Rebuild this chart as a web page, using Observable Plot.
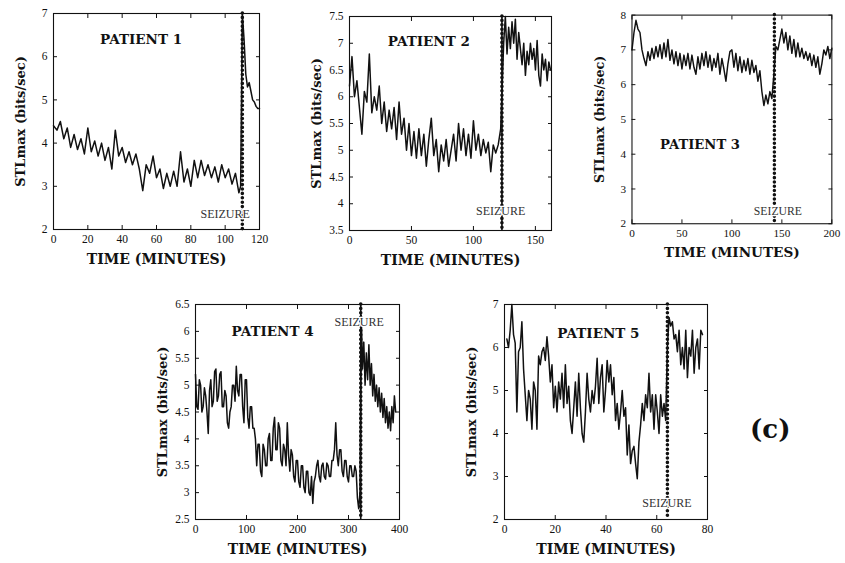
<!DOCTYPE html>
<html><head><meta charset="utf-8">
<script src="https://cdn.jsdelivr.net/npm/d3@7"></script>
<script src="https://cdn.jsdelivr.net/npm/@observablehq/plot@0.6"></script>
<style>
body{margin:0;width:845px;height:563px;overflow:hidden;background:#fff;position:relative;}
.panel{position:absolute;}
.panel svg{overflow:visible;}
g[aria-label="x-axis label"] text{font-family:"DejaVu Serif";font-weight:bold;font-size:14px;}
g[aria-label="y-axis label"] text{font-family:"DejaVu Serif";font-weight:bold;font-size:13px;}
#tag{position:absolute;left:750px;top:414px;font:bold 26px "DejaVu Serif";color:#111;}
</style></head>
<body>
<div id="tag">(c)</div>
<script>
// ---------- data ----------
const patients = ["PATIENT 1", "PATIENT 2", "PATIENT 3", "PATIENT 4", "PATIENT 5"];
const seizureTimes = [110, 123, 142.5, 324, 64.2];
const xDomains = [[0, 120], [0, 163], [0, 200], [0, 400], [0, 80]];
const yDomains = [[2, 7], [3.5, 7.5], [2, 8], [2.5, 6.5], [2, 7]];
const xTickValues = [[0,20,40,60,80,100,120],[0,50,100,150],[0,50,100,150,200],[0,100,200,300,400],[0,20,40,60,80]];
const yTickValues = [[2,3,4,5,6,7],[3.5,4,4.5,5,5.5,6,6.5,7,7.5],[2,3,4,5,6,7,8],[2.5,3,3.5,4,4.5,5,5.5,6,6.5],[2,3,4,5,6,7]];

// Patient 1: pre-seizure every 2 min from 0, post every 1 min from 109
const p1PreStart = 0, p1PreStep = 2;
const p1Pre = [4.4,4.3,4.5,4.1,4.35,3.9,4.2,3.85,4.1,3.75,4.35,3.8,4.05,3.7,4.0,3.6,3.9,3.4,4.3,3.7,3.9,3.55,3.8,3.5,3.75,3.4,2.9,3.5,3.3,3.7,3.2,3.4,2.95,3.3,3.0,3.35,3.0,3.8,3.1,3.4,3.0,3.6,3.2,3.6,3.25,3.5,3.2,3.45,3.1,3.5,3.2,3.4,3.05,3.3,2.85];
const p1PostStart = 109, p1PostStep = 1;
const p1Post = [3.0,7.0,6.4,5.6,5.3,5.4,5.2,5.0,4.95,4.85,4.8,4.8];

// Patient 2
const p2PreStart = 0, p2PreStep = 2;
const p2Pre = [6.2,6.75,6.0,6.3,5.8,5.3,6.1,5.9,6.8,5.7,6.0,5.75,6.2,5.5,5.9,5.35,5.75,5.4,5.8,5.2,5.9,5.3,5.6,5.0,5.5,4.9,5.35,4.85,5.4,4.9,5.3,4.7,5.2,5.6,4.9,5.2,4.6,5.1,4.8,5.2,4.7,5.0,5.3,4.8,5.5,5.0,5.4,4.9,5.3,4.85,5.55,5.0,5.3,4.9,5.2,4.95,5.15,4.6,5.1,4.95,5.1,5.4];
const p2PostStart = 124.4, p2PostStep = 1.35;
const p2Post = [7.0,7.5,6.8,7.3,6.9,7.4,7.0,7.45,6.7,7.2,6.9,6.6,7.0,6.4,6.85,6.6,7.0,6.7,6.9,6.5,7.05,6.4,6.2,6.8,6.5,6.7,6.3,6.65,6.5];

// Patient 3
const p3PreStart = 0, p3PreStep = 2;
const p3Pre = [7.0,7.5,7.85,7.6,7.5,7.0,6.75,6.55,6.95,6.7,7.05,6.75,7.1,6.8,7.15,6.75,7.2,6.8,7.3,6.7,7.0,6.6,6.95,6.55,6.9,6.45,6.85,6.55,6.9,6.45,6.85,6.5,6.3,6.8,6.45,6.9,6.55,6.95,6.5,6.85,6.4,6.75,6.5,6.9,6.3,6.75,6.45,6.1,6.6,6.95,7.0,6.5,6.9,6.4,6.8,6.35,6.7,6.4,6.75,6.3,6.7,6.35,6.55,6.1,6.4,5.8,5.4,5.7,5.45,5.8,5.6];
const p3PostStart = 142, p3PostStep = 2;
const p3Post = [6.3,7.1,7.0,7.3,7.6,7.2,7.5,7.0,7.4,6.9,7.3,6.8,7.2,6.8,7.05,6.75,6.95,6.7,6.9,6.55,6.85,6.5,6.8,6.3,6.6,7.0,6.85,7.1,6.75,7.05];

// Patient 4: every 2.5 min from 0
const p4Start = 0, p4Step = 2.5;
const p4Values = [5.2,4.6,4.55,5.1,5.0,4.5,4.6,4.95,4.8,4.5,4.1,4.9,5.1,4.6,4.7,5.25,5.3,4.7,4.8,5.2,5.25,4.6,4.6,4.9,4.8,4.3,4.2,4.5,4.6,5.0,5.0,4.7,5.35,4.9,4.8,5.2,5.2,4.6,4.3,5.1,5.1,4.4,4.2,4.6,4.6,4.2,4.2,4.0,3.5,3.9,3.9,3.4,3.3,3.9,3.8,3.5,3.5,4.0,4.1,3.6,3.6,4.2,4.4,3.8,3.8,4.3,4.2,3.6,3.5,3.9,3.8,3.5,4.3,3.7,3.4,3.8,3.7,3.3,3.2,3.6,3.6,3.2,3.1,3.5,3.5,3.1,3.0,3.4,3.4,3.0,2.95,3.3,2.8,3.2,3.3,3.5,3.6,3.3,3.2,3.5,3.55,3.3,3.25,3.55,3.5,3.3,3.3,3.6,3.6,3.8,4.3,3.7,3.5,3.8,3.8,3.4,3.3,3.6,3.6,3.3,3.2,3.5,3.5,3.3,3.3,3.5,3.4,2.9,2.7,3.0,6.3,5.3,5.8,5.0,5.6,5.1,5.75,5.0,5.4,4.8,5.2,4.7,5.0,4.6,4.95,4.5,4.85,4.4,4.75,4.3,4.6,4.2,4.5,4.15,4.6,4.3,4.8,4.5];

// Patient 5
const p5Start = 0.92, p5Step = 0.659;
const p5Values = [6.2,6.0,6.4,7.0,6.3,6.1,4.5,5.9,6.0,6.6,5.5,4.9,4.3,5.0,4.8,4.1,5.2,5.0,4.1,5.8,5.6,5.9,6.0,5.7,6.25,5.8,5.2,5.6,4.6,5.1,4.5,5.2,4.8,5.4,4.6,5.6,4.7,5.1,4.3,4.0,4.6,5.2,4.4,5.4,4.6,4.0,3.8,4.5,5.4,4.8,4.5,5.0,4.7,5.1,5.75,4.7,5.3,5.6,4.5,5.0,5.7,5.2,5.6,4.9,5.3,4.3,4.7,4.1,4.5,5.0,4.4,4.6,3.5,4.2,3.3,3.6,3.7,3.3,2.95,3.8,4.2,4.7,4.3,4.9,4.6,5.4,4.5,4.9,4.1,4.9,4.5,4.0,4.9,4.4,4.7,4.3,6.0,6.7,6.5,6.6,6.2,6.3,5.9,6.4,5.6,6.0,5.5,6.4,5.3,6.0,5.8,6.4,5.4,6.0,6.2,5.5,6.4,6.3];

// label anchors (data coords): patient label, seizure label
const patientLabelAt = [[51, 6.4], [64, 7.03], [68, 4.27], [151, 6.0], [37, 6.33]];
const seizureLabelAt = [[100, 2.35], [122, 3.87], [146, 2.35], [321, 6.17], [64, 2.38]];

// frame boxes in page pixels [left, top, right, bottom]
const boxes = [[53,13,259,229],[349,16,551,230],[633,15,838,229],[195,304,399,519],[504,304,707,519]];
const solidSeizure = [false, true, false, true, false];

// ---------- build ----------
const seg = (start, step, vals) => vals.map((v, i) => ({t: start + i * step, v}));
const series = [
  seg(p1PreStart, p1PreStep, p1Pre).concat(seg(p1PostStart, p1PostStep, p1Post)),
  seg(p2PreStart, p2PreStep, p2Pre).concat(seg(p2PostStart, p2PostStep, p2Post)),
  seg(p3PreStart, p3PreStep, p3Pre).concat(seg(p3PostStart, p3PostStep, p3Post)),
  seg(p4Start, p4Step, p4Values),
  seg(p5Start, p5Step, p5Values)
];

const mL = 60, mT = 15, mR = 14, mB = 50;
const fmt = d => String(d);
series.forEach((data, i) => {
  const [L, T, R, B] = boxes[i];
  const w = R - L, h = B - T;
  const marks = [
    Plot.frame({stroke: "#111", strokeWidth: 1.1}),
    Plot.axisX(xTickValues[i], {anchor: "bottom", tickSize: -4, tickPadding: 9, tickFormat: fmt, label: "TIME (MINUTES)", labelAnchor: "center", labelArrow: "none", labelOffset: 34}),
    Plot.axisX(xTickValues[i], {anchor: "top", tickSize: -4, tickFormat: () => "", label: null}),
    Plot.axisY(yTickValues[i], {anchor: "left", tickSize: -4, tickPadding: 10, tickFormat: fmt, label: "STLmax (bits/sec)", labelAnchor: "center", labelArrow: "none", labelOffset: 38}),
    Plot.axisY(yTickValues[i], {anchor: "right", tickSize: -4, tickFormat: () => "", label: null}),
    Plot.line(data, {x: "t", y: "v", stroke: "#111", strokeWidth: 1.5}),
  ];
  if (solidSeizure[i]) marks.push(Plot.ruleX([seizureTimes[i]], {stroke: "#111", strokeWidth: 1.6}));
  marks.push(Plot.ruleX([seizureTimes[i]], {stroke: "#111", strokeWidth: 3.6, strokeDasharray: "0,4.4", strokeLinecap: "round"}));
  marks.push(Plot.text([seizureLabelAt[i]], {x: d => d[0], y: d => d[1], text: () => "SEIZURE", fontFamily: "Liberation Serif", fontSize: 12, fill: "#333", stroke: "white", strokeWidth: 2.5}));
  marks.push(Plot.text([patientLabelAt[i]], {x: d => d[0], y: d => d[1], text: () => patients[i], fontFamily: "DejaVu Serif", fontWeight: "bold", fontSize: 13.5, fill: "#111"}));
  const chart = Plot.plot({
    width: w + mL + mR, height: h + mT + mB,
    marginLeft: mL, marginTop: mT, marginRight: mR, marginBottom: mB,
    style: {fontFamily: "Liberation Serif", fontSize: "11.5px", color: "#111", background: "transparent"},
    x: {domain: xDomains[i]},
    y: {domain: yDomains[i]},
    marks
  });
  const div = document.createElement("div");
  div.className = "panel";
  div.style.left = (L - mL) + "px";
  div.style.top = (T - mT) + "px";
  div.appendChild(chart);
  document.body.appendChild(div);
});
</script>
</body></html>
